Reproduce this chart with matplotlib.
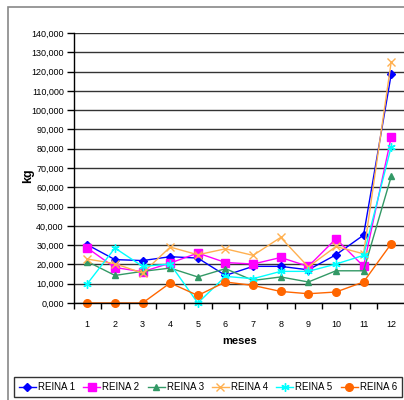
import matplotlib
matplotlib.use('Agg')
import matplotlib.pyplot as plt
from matplotlib.patches import Rectangle

plt.rcParams['font.family'] = ['Liberation Sans', 'DejaVu Sans']

meses = [1, 2, 3, 4, 5, 6, 7, 8, 9, 10, 11, 12]

# values in thousands of kg (axis labels read "30,000" etc.)
reina1 = [30.2, 22.5, 22.0, 24.0, 23.3, 14.3, 19.0, 19.0, 17.2, 25.0, 35.2, 118.5]
reina2 = [28.5, 18.4, 16.2, 20.7, 25.9, 21.0, 20.2, 23.6, 19.0, 33.3, 19.0, 86.0]
reina3 = [21.5, 14.3, 16.4, 18.1, 13.5, 17.8, 11.7, 13.5, 10.9, 16.7, 16.7, 65.6]
reina4 = [22.8, 20.4, 15.5, 29.0, 25.0, 28.1, 24.7, 34.0, 18.7, 29.3, 25.5, 125.0]
reina5 = [10.0, 28.5, 19.0, 20.2, 0.0, 13.8, 12.6, 16.4, 16.4, 20.2, 24.7, 81.0]
reina6 = [0.0, 0.0, 0.0, 10.4, 3.9, 10.9, 9.1, 6.0, 4.8, 5.7, 10.9, 30.7]

series = [
    ('REINA 1', reina1, '#0000FF', 'D', 4.5),
    ('REINA 2', reina2, '#FF00FF', 's', 5.5),
    ('REINA 3', reina3, '#339966', '^', 5),
    ('REINA 4', reina4, '#FFB050', 'x', 6),
    ('REINA 5', reina5, '#00FFFF', (6, 2, 0), 6),
    ('REINA 6', reina6, '#FF6600', 'o', 5.5),
]

fig = plt.figure(figsize=(4.04, 4.00), dpi=100)
# outer chart frame
fig.patches.append(Rectangle((8 / 404, -0.1), 1.2, 1 - 7 / 400 + 0.1, transform=fig.transFigure,
                             fill=False, edgecolor='#888888', linewidth=1.2))

ax = fig.add_axes([73.5 / 404, 1 - 303 / 400, 331.5 / 404, 270 / 400])

for name, vals, col, mk, ms in series:
    ax.plot(meses, vals, color=col, marker=mk, markersize=ms, linewidth=1,
            markeredgecolor=col, markerfacecolor=col, label=name, clip_on=False)

ax.set_xlim(0.5, 12.5)
ax.set_ylim(0, 140)
yt = list(range(0, 141, 10))
ax.set_yticks(yt)
ax.set_yticklabels([f"{v:.3f}".replace('.', ',') for v in yt])
ax.set_xticks(meses)
ax.set_xticklabels([str(m) for m in meses])
ax.set_xticks([m + 0.5 for m in range(0, 13)], minor=True)
ax.tick_params(axis='x', which='major', length=0, pad=12, labelsize=6.5)
ax.tick_params(axis='x', which='minor', length=4, direction='out', width=1)
ax.tick_params(axis='y', length=5, width=1, pad=2, labelsize=6.5)
ax.grid(axis='y', color='#333333', linewidth=1)
ax.set_axisbelow(True)
for s in ['top', 'right']:
    ax.spines[s].set_visible(False)
ax.spines['left'].set_linewidth(1)
ax.spines['bottom'].set_linewidth(1)

ax.set_ylabel('kg', fontsize=9, fontweight='bold')
ax.yaxis.set_label_coords(-0.12, 0.47)
ax.set_xlabel('meses', fontsize=8, fontweight='bold', labelpad=5)

fig.legend(loc='lower left', bbox_to_anchor=(14 / 404, 3 / 400), ncol=6, fontsize=7,
           frameon=True, fancybox=False, edgecolor='black', handlelength=1.75,
           handletextpad=0.2, columnspacing=0.85, borderpad=0.5, borderaxespad=0)

fig.savefig('out.png', dpi=100)
